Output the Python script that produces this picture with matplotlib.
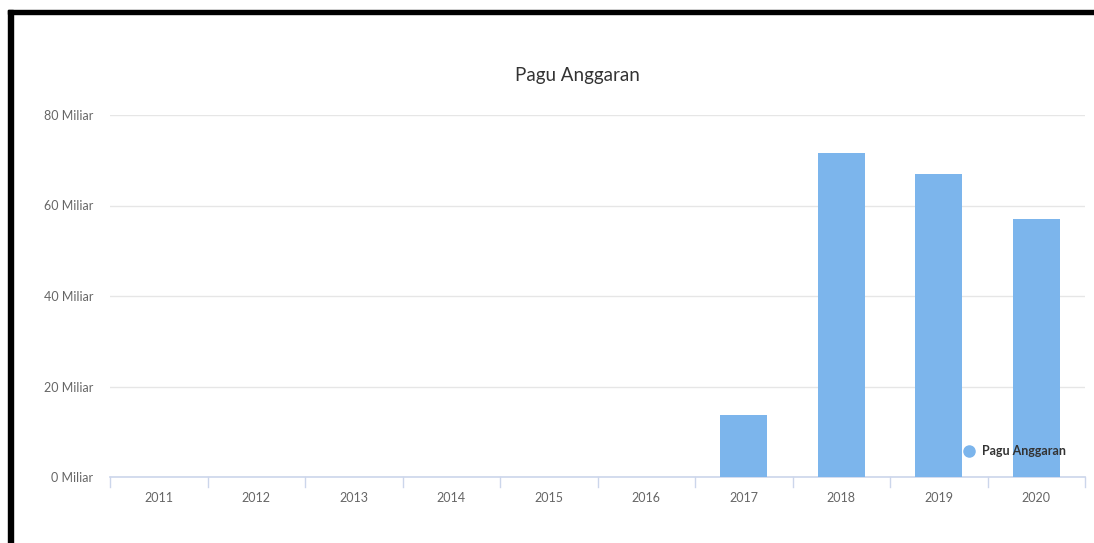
import matplotlib
matplotlib.use("Agg")
import matplotlib.pyplot as plt
from matplotlib.patches import Rectangle
from matplotlib.lines import Line2D

plt.rcParams['font.family'] = ['Lato', 'DejaVu Sans']

years = ['2011', '2012', '2013', '2014', '2015', '2016', '2017', '2018', '2019', '2020']
pagu = [0, 0, 0, 0, 0, 0, 13.7, 71.6, 67.0, 57.1]  # miliar
y_ticks = [0, 20, 40, 60, 80]

W, H = 1094, 543
fig = plt.figure(figsize=(W / 100, H / 100), dpi=100)
ax = fig.add_axes([110 / W, 1 - 477 / H, 975 / W, (477 - 115) / H])

x = range(len(years))
ax.bar(x, pagu, width=0.48, color='#7cb5ec', zorder=3)

ax.set_xlim(-0.5, len(years) - 0.5)
ax.set_ylim(0, 80)
ax.set_yticks(y_ticks)
ax.set_yticklabels([f'{v} Miliar' for v in y_ticks])
ax.set_xticks(list(x))
ax.set_xticklabels(years)
ax.tick_params(axis='y', length=0, pad=12, labelsize=9, labelcolor='#666666')
ax.tick_params(axis='x', length=0, pad=11, labelsize=9, labelcolor='#666666')
ax.grid(axis='y', color='#e6e6e6', linewidth=1, zorder=0)

for s in ['top', 'right', 'left']:
    ax.spines[s].set_visible(False)
ax.spines['bottom'].set_color('#ccd6eb')
ax.spines['bottom'].set_linewidth(1.2)

# category boundary ticks below the axis
for b in range(len(years) + 1):
    ax.plot([b - 0.5, b - 0.5], [0, -2.2], color='#ccd6eb', linewidth=1,
            clip_on=False, zorder=2)

fig.text(577 / W, 1 - 75 / H, 'Pagu Anggaran', ha='center', va='center',
         fontsize=13.5, color='#333333')

# legend inside plot at bottom right
fig.add_artist(Line2D([969 / W], [1 - 451 / H], marker='o', markersize=8,
                      color='#7cb5ec', linestyle='none'))
fig.text(982 / W, 1 - 451 / H, 'Pagu Anggaran', ha='left', va='center',
         fontsize=9, fontweight='bold', color='#333333')

# black frame of the screenshot
fig.patches.append(Rectangle((8 / W, 1 - 14 / H), 1 - 8 / W, 4 / H,
                             transform=fig.transFigure, color='black'))
fig.patches.append(Rectangle((8 / W, 0), 5 / W, 1 - 10 / H,
                             transform=fig.transFigure, color='black'))

fig.savefig('out.png', dpi=100)
